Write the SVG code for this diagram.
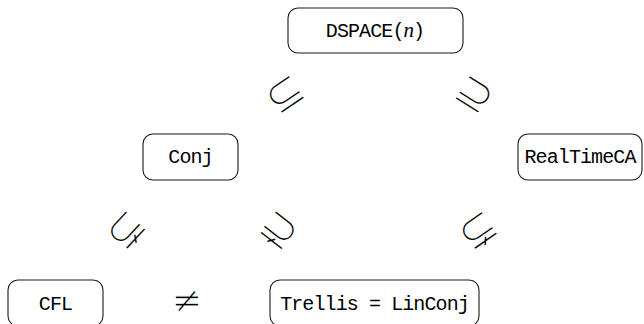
<svg xmlns="http://www.w3.org/2000/svg" width="644" height="324" viewBox="0 0 644 324">
<style>
.box{fill:#fff;stroke:#1a1a1a;stroke-width:1.1}
.lbl{font-family:"Liberation Mono","DejaVu Sans Mono",monospace;font-size:20px;letter-spacing:-0.9px;fill:#000;text-anchor:middle}
.it{font-family:"Liberation Serif","DejaVu Serif",serif;font-style:italic;font-size:21px}
.rel{font-family:"DejaVu Sans",sans-serif;font-size:46px;fill:#000;stroke:#fff;stroke-width:1.8px;text-anchor:middle;dominant-baseline:central}
.ne{font-size:38px;stroke-width:1.4px}
</style>
<rect width="644" height="324" fill="#fff"/>
<g id="connectors">
<text class="rel" transform="translate(284,93) rotate(-34)">⊆</text>
<text class="rel" transform="translate(475,93) rotate(32)">⊇</text>
<text class="rel" transform="translate(125,229) rotate(-47)">⊊</text>
<text class="rel" transform="translate(280,229) rotate(38)">⊋</text>
<text class="rel" transform="translate(477,229) rotate(-35)">⊊</text>
<text class="rel ne" transform="translate(187,300)">≠</text>
</g>
<g id="dspace">
<rect class="box" x="288" y="8" width="175" height="45" rx="10"/>
<text class="lbl" x="375" y="37">DSPACE(<tspan class="it">n</tspan>)</text>
</g>
<g id="conj">
<rect class="box" x="143" y="134" width="95" height="46" rx="10"/>
<text class="lbl" x="190.5" y="163">Conj</text>
</g>
<g id="realtimeca">
<rect class="box" x="518" y="134" width="124" height="46" rx="10"/>
<text class="lbl" x="580" y="163">RealTimeCA</text>
</g>
<g id="cfl">
<rect class="box" x="8" y="280" width="95" height="46" rx="10"/>
<text class="lbl" x="55.5" y="310">CFL</text>
</g>
<g id="trellis">
<rect class="box" x="270" y="280" width="209" height="46" rx="10"/>
<text class="lbl" x="374.5" y="310">Trellis = LinConj</text>
</g>
</svg>
